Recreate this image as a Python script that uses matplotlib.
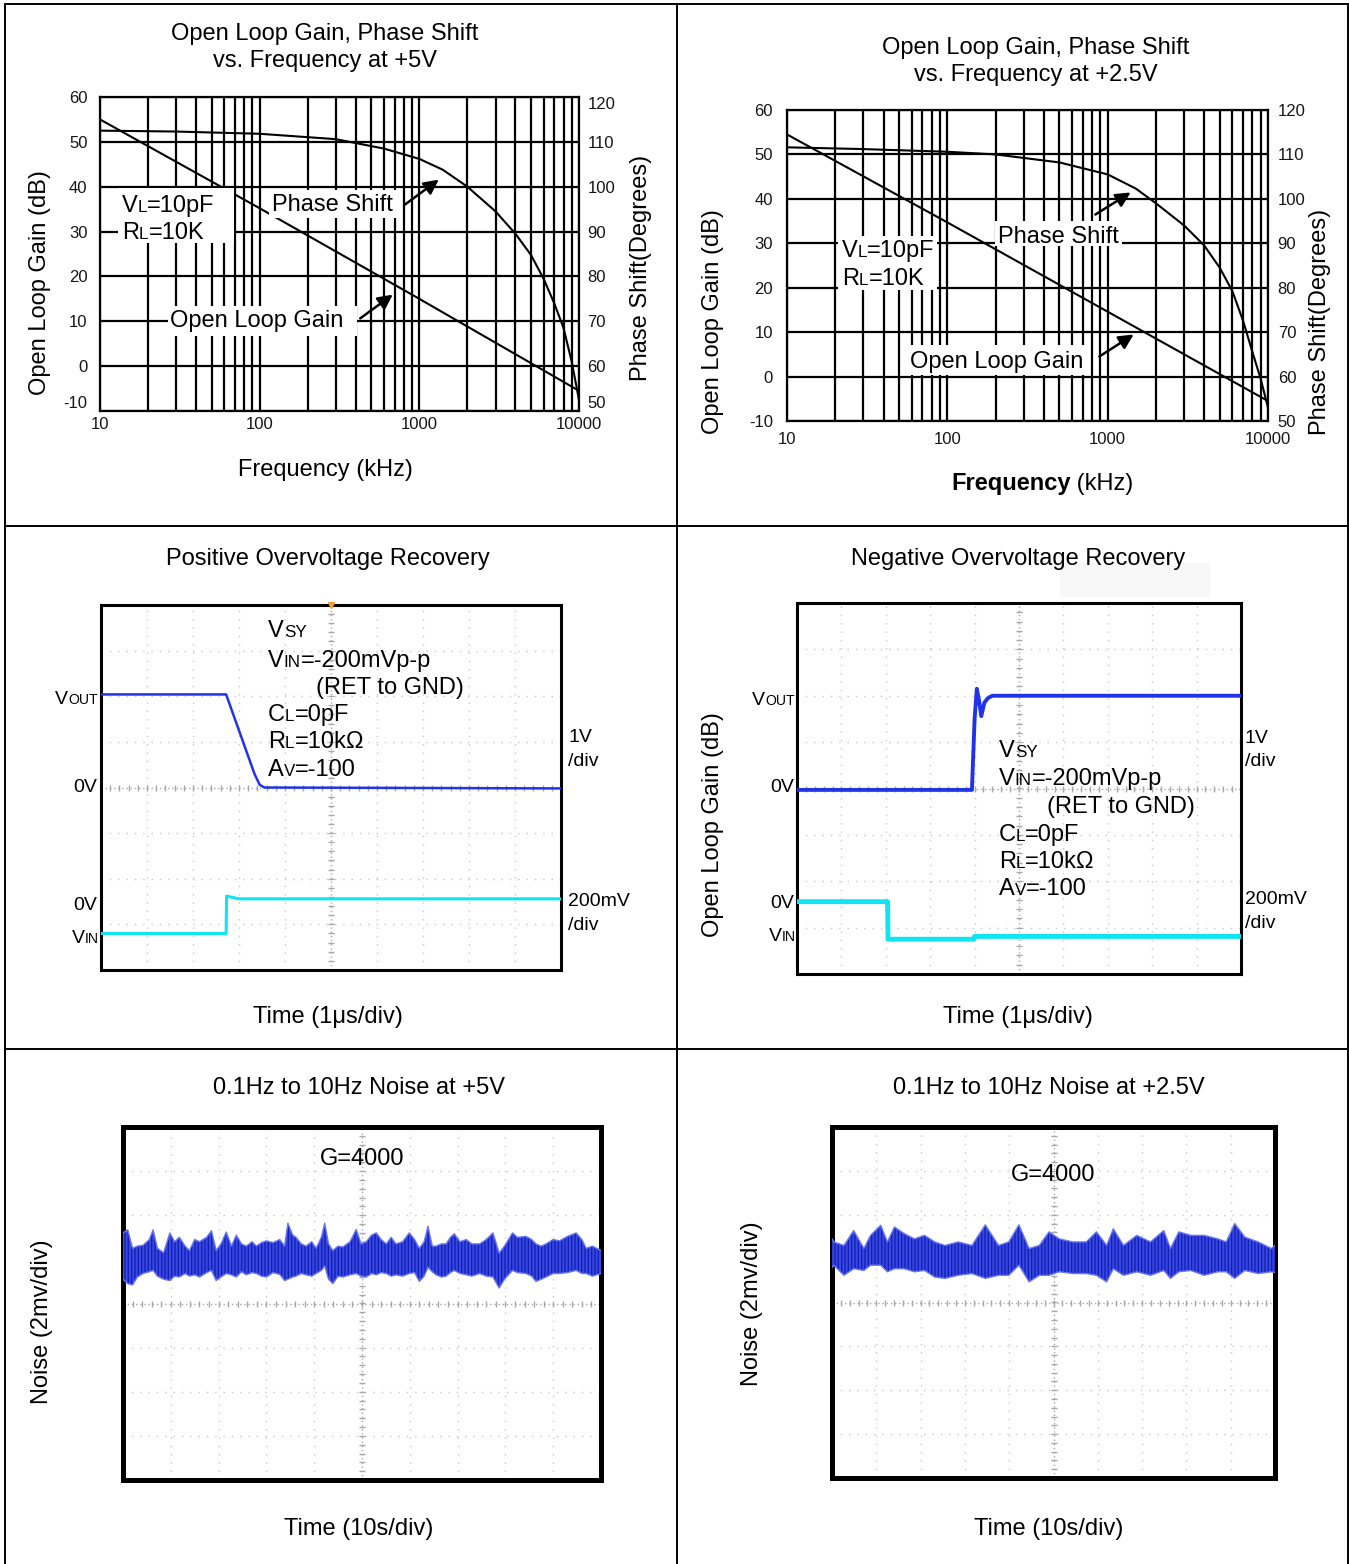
import matplotlib
matplotlib.use('Agg')
import matplotlib.pyplot as plt
import numpy as np
from matplotlib.patches import Rectangle, FancyArrowPatch
from matplotlib.lines import Line2D
from matplotlib.ticker import LogLocator, NullFormatter, FixedLocator

plt.rcParams['font.family'] = ['Liberation Sans', 'DejaVu Sans']
plt.rcParams['axes.unicode_minus'] = False
plt.rcParams['hatch.linewidth'] = 1.0

# ---- open loop gain / phase data (freq in kHz) ----
gain_freq = [10, 100, 1000, 10000]
gain_5v = [55.0, 35.2, 15.0, -5.5]
gain_25v = [54.5, 34.7, 14.6, -5.5]

phase_freq_5v = [10, 30, 100, 300, 600, 1000, 1400, 2000, 3000, 4000, 5000, 6000, 7000, 8000, 9000, 10000]
phase_5v = [112.5, 112.3, 111.8, 110.6, 108.5, 106.2, 103.8, 100.0, 94.5, 89.5, 84.8, 79.5, 74.0, 68.5, 61.0, 52.5]

phase_freq_25v = [10, 30, 100, 200, 500, 1000, 1500, 2000, 3000, 4000, 5000, 6000, 7000, 8000, 9000, 10000]
phase_25v = [111.6, 111.2, 110.6, 110.0, 108.2, 105.5, 102.3, 99.0, 94.0, 89.5, 84.5, 79.2, 72.5, 65.5, 59.5, 53.0]

freq_ticks = [10, 100, 1000, 10000]
freq_labels = ['10', '100', '1000', '10000']

# ---- overvoltage recovery traces (time and level in scope divisions) ----
pos_vout_t = [0, 2.72, 3.34, 3.45, 3.55, 10]
pos_vout_v = [2.04, 2.04, 0.29, 0.06, 0.0, -0.02]
pos_vin_t = [0, 2.72, 2.73, 3.0, 10]
pos_vin_v = [-3.2, -3.2, -2.38, -2.44, -2.44]

neg_vout_t = [0, 3.94, 4.0, 4.05, 4.1, 4.15, 4.22, 4.3, 4.4, 10]
neg_vout_v = [-0.03, -0.03, 1.5, 2.15, 1.9, 1.56, 1.85, 1.95, 2.0, 2.0]
neg_vin_t = [0, 2.04, 2.05, 3.98, 4.0, 10]
neg_vin_v = [-2.44, -2.44, -3.25, -3.25, -3.19, -3.19]

# ---- 0.1Hz-10Hz noise envelopes (divisions) ----
noise5_t = [0.0, 0.10, 0.20, 0.30, 0.42, 0.55, 0.63, 0.72, 0.85, 0.98, 1.08, 1.18, 1.30, 1.39, 1.50,
            1.60, 1.75, 1.85, 1.95, 2.05, 2.16, 2.27, 2.37, 2.48, 2.58, 2.70, 2.79, 2.90, 3.00, 3.14,
            3.28, 3.38, 3.45, 3.55, 3.62, 3.73, 3.83, 3.95, 4.04, 4.15, 4.22, 4.30, 4.39, 4.50, 4.60,
            4.75, 4.88, 4.98, 5.09, 5.20, 5.30, 5.40, 5.51, 5.61, 5.71, 5.85, 5.99, 6.10, 6.20, 6.30,
            6.38, 6.47, 6.55, 6.66, 6.76, 6.85, 6.93, 7.05, 7.18, 7.30, 7.46, 7.60, 7.74, 7.87, 7.98,
            8.15, 8.25, 8.43, 8.55, 8.64, 8.75, 8.85, 9.00, 9.13, 9.30, 9.48, 9.60, 9.69, 9.82, 10.0]
noise5_top = [1.60, 1.67, 1.25, 1.30, 1.32, 1.45, 1.67, 1.25, 1.15, 1.60, 1.40, 1.50, 1.30, 1.20, 1.45,
              1.40, 1.50, 1.65, 1.20, 1.35, 1.62, 1.30, 1.55, 1.35, 1.30, 1.40, 1.30, 1.38, 1.42, 1.38,
              1.45, 1.30, 1.82, 1.55, 1.50, 1.35, 1.30, 1.40, 1.25, 1.50, 1.82, 1.35, 1.20, 1.30, 1.28,
              1.40, 1.68, 1.35, 1.40, 1.55, 1.60, 1.45, 1.35, 1.50, 1.35, 1.40, 1.60, 1.45, 1.25, 1.40,
              1.75, 1.30, 1.30, 1.35, 1.35, 1.50, 1.58, 1.40, 1.45, 1.35, 1.35, 1.45, 1.60, 1.14, 1.30,
              1.60, 1.50, 1.52, 1.45, 1.35, 1.30, 1.35, 1.45, 1.42, 1.52, 1.60, 1.45, 1.25, 1.30, 1.20]
noise5_bot = [0.55, 0.45, 0.42, 0.60, 0.68, 0.72, 0.75, 0.62, 0.55, 0.52, 0.62, 0.60, 0.68, 0.62, 0.65,
              0.60, 0.70, 0.75, 0.52, 0.60, 0.68, 0.65, 0.60, 0.72, 0.65, 0.70, 0.68, 0.62, 0.60, 0.70,
              0.66, 0.52, 0.55, 0.60, 0.62, 0.68, 0.65, 0.62, 0.68, 0.75, 0.85, 0.55, 0.45, 0.62, 0.60,
              0.65, 0.68, 0.62, 0.60, 0.68, 0.65, 0.70, 0.68, 0.62, 0.65, 0.62, 0.68, 0.70, 0.50, 0.62,
              0.82, 0.72, 0.65, 0.60, 0.62, 0.70, 0.75, 0.68, 0.65, 0.62, 0.68, 0.62, 0.60, 0.35, 0.55,
              0.75, 0.70, 0.68, 0.62, 0.50, 0.55, 0.60, 0.68, 0.68, 0.70, 0.75, 0.68, 0.68, 0.62, 0.68]

noise25_t = [0.0, 0.04, 0.27, 0.49, 0.72, 0.87, 1.10, 1.25, 1.41, 1.63, 1.86, 2.09, 2.32, 2.55, 2.85,
             3.16, 3.46, 3.76, 3.99, 4.22, 4.45, 4.68, 4.90, 5.13, 5.44, 5.74, 5.97, 6.20, 6.35, 6.58,
             6.88, 7.19, 7.49, 7.64, 7.83, 8.10, 8.40, 8.71, 8.90, 9.09, 9.32, 9.62, 9.92, 10.0]
noise25_top = [1.45, 1.38, 1.30, 1.64, 1.23, 1.53, 1.76, 1.38, 1.72, 1.57, 1.45, 1.53, 1.38, 1.30, 1.38,
               1.30, 1.77, 1.30, 1.38, 1.77, 1.23, 1.30, 1.61, 1.45, 1.38, 1.38, 1.61, 1.30, 1.68, 1.30,
               1.53, 1.38, 1.64, 1.23, 1.61, 1.53, 1.53, 1.45, 1.38, 1.80, 1.49, 1.38, 1.23, 1.30]
noise25_bot = [0.80, 0.85, 0.62, 0.77, 0.73, 0.85, 0.85, 0.70, 0.77, 0.77, 0.70, 0.73, 0.58, 0.55, 0.62,
               0.66, 0.55, 0.62, 0.62, 0.85, 0.47, 0.62, 0.62, 0.70, 0.66, 0.66, 0.62, 0.47, 0.77, 0.62,
               0.70, 0.62, 0.73, 0.55, 0.70, 0.73, 0.62, 0.70, 0.70, 0.55, 0.73, 0.66, 0.70, 0.68]

W, H = 1349, 1564
fig = plt.figure(figsize=(W / 100, H / 100), dpi=100)
renderer = fig.canvas.get_renderer()


def box(x0, y0, x1, y1):
    return fig.add_axes([x0 / W, 1 - y1 / H, (x1 - x0) / W, (y1 - y0) / H])


def ftext(x, y, s, **kw):
    kw.setdefault('fontsize', 17)
    kw.setdefault('zorder', 7)
    return fig.text(x / W, 1 - y / H, s, **kw)


def white_box(x0, y0, x1, y1, color='white', z=4):
    fig.patches.append(Rectangle((x0 / W, 1 - y1 / H), (x1 - x0) / W, (y1 - y0) / H,
                                 transform=fig.transFigure, fc=color, ec='none', zorder=z))


def arrow(x0, y0, x1, y1):
    fig.add_artist(FancyArrowPatch((x0 / W, 1 - y0 / H), (x1 / W, 1 - y1 / H),
                                   transform=fig.transFigure, arrowstyle='-|>',
                                   mutation_scale=22, lw=1.8, color='black', zorder=6))


def rich(x, y, parts, size=17, weight='normal'):
    # parts: list of (text, small) drawn along one baseline y (pixels)
    cx = x
    for s, small in parts:
        t = fig.text(cx / W, 1 - y / H, s, fontsize=size * 0.72 if small else size,
                     va='baseline', ha='left', zorder=7, fontweight=weight)
        cx += t.get_window_extent(renderer).width
    return cx


def fline(x0, y0, x1, y1):
    fig.add_artist(Line2D([x0 / W, x1 / W], [1 - y0 / H, 1 - y1 / H],
                          transform=fig.transFigure, color='black', lw=1.4))


def bode(rect, gain, ph_f, ph, lpad, rpad, xpad, lift_ends):
    ax = box(*rect)
    ax.set_xscale('log')
    ax.set_xlim(10, 10000)
    ax.set_ylim(-10, 60)
    ax.set_yticks(range(-10, 61, 10))
    ax.xaxis.set_major_locator(FixedLocator(freq_ticks))
    ax.set_xticklabels(freq_labels)
    ax.xaxis.set_minor_locator(LogLocator(base=10, subs=range(2, 10)))
    ax.xaxis.set_minor_formatter(NullFormatter())
    ax.grid(True, which='both', axis='x', color='black', lw=1.6)
    ax.grid(True, which='major', axis='y', color='black', lw=1.6)
    ax.tick_params(which='both', length=0, labelsize=12, colors='#151515')
    ax.tick_params(axis='y', pad=lpad)
    ax.tick_params(axis='x', pad=xpad)
    for sp in ax.spines.values():
        sp.set_linewidth(1.6)
    ax.plot(gain_freq, gain, color='black', lw=1.5)
    ax2 = ax.twinx()
    ax2.set_ylim(50, 120)
    ax2.set_yticks(range(50, 121, 10))
    ax2.tick_params(length=0, labelsize=12, pad=rpad, colors='#151515')
    ax2.plot(ph_f, ph, color='black', lw=1.5)
    for sp in ax2.spines.values():
        sp.set_visible(False)
    if lift_ends:
        # bottom tick labels sit just above the frame, like the original sheet
        ax.get_yticklabels()[0].set_va('bottom')
        ax2.get_yticklabels()[0].set_va('bottom')
        ax2.get_yticklabels()[-1].set_va('top')
    ax.get_xticklabels()[-1].set_va('top')
    return ax


def scope(rect, frame_lw):
    ax = box(*rect)
    ax.set_xlim(0, 10)
    ax.set_ylim(-4, 4)
    ax.set_xticks([])
    ax.set_yticks([])
    for i in range(1, 10):
        if i != 5:
            ax.axvline(i, color='#c8c8c8', lw=1, ls=(0, (1, 5)), zorder=1)
    for j in range(-3, 4):
        if j != 0:
            ax.axhline(j, color='#c8c8c8', lw=1, ls=(0, (1, 5)), zorder=1)
    ax.axvline(5, color='#a8a8a8', lw=1, ls=(0, (1, 2)), zorder=1)
    ax.axhline(0, color='#a8a8a8', lw=1, ls=(0, (1, 2)), zorder=1)
    xs = np.arange(0, 10.01, 0.2)
    ys = np.arange(-4, 4.01, 0.2)
    ax.plot(xs, np.zeros_like(xs), '|', ms=4, color='#a8a8a8', mew=1, zorder=1)
    ax.plot(np.full_like(ys, 5), ys, '_', ms=4, color='#a8a8a8', mew=1, zorder=1)
    for sp in ax.spines.values():
        sp.set_linewidth(frame_lw)
    return ax


# ---------------- table lines ----------------
fline(5, 4, 1348, 4)
fline(5, 526, 1348, 526)
fline(5, 1049, 1348, 1049)
fline(5, 4, 5, 1564)
fline(677, 4, 677, 1564)
fline(1348, 4, 1348, 1564)

# ---------------- top-left Bode ----------------
ftext(325, 34, 'Open Loop Gain, Phase Shift', ha='center', va='center')
ftext(325, 61, 'vs. Frequency at +5V', ha='center', va='center')
bode((100, 97, 579, 411), gain_5v, phase_freq_5v, phase_5v, 9, 6, 4, True)
ftext(40, 283, 'Open Loop Gain (dB)', rotation=90, ha='center', va='center')
ftext(641, 268, 'Phase Shift(Degrees)', rotation=90, ha='center', va='center')
ftext(325, 470, 'Frequency (kHz)', ha='center', va='center')
white_box(118, 188, 234, 243)
rich(122, 212, [('V', False), ('L', True), ('=10pF', False)])
rich(122, 239, [('R', False), ('L', True), ('=10K', False)])
white_box(269, 190, 401, 218)
rich(272, 211, [('Phase Shift', False)])
arrow(403, 206, 441, 178)
white_box(168, 306, 357, 336)
rich(170, 327, [('Open Loop Gain', False)])
arrow(358, 320, 395, 293)

# ---------------- top-right Bode ----------------
ftext(1036, 48, 'Open Loop Gain, Phase Shift', ha='center', va='center')
ftext(1036, 75, 'vs. Frequency at +2.5V', ha='center', va='center')
bode((787, 110, 1268, 421), gain_25v, phase_freq_25v, phase_25v, 10, 7, 8, False)
ftext(713, 322, 'Open Loop Gain (dB)', rotation=90, ha='center', va='center')
ftext(1320, 322, 'Phase Shift(Degrees)', rotation=90, ha='center', va='center')
cx = rich(951, 490, [('Frequency', False)], weight='bold')
rich(cx, 490, [(' (kHz)', False)])
white_box(838, 236, 937, 290)
rich(842, 257, [('V', False), ('L', True), ('=10pF', False)])
rich(842, 285, [('R', False), ('L', True), ('=10K', False)])
white_box(995, 221, 1122, 246)
rich(998, 243, [('Phase Shift', False)])
arrow(1093, 216, 1133, 191)
white_box(907, 345, 1088, 375)
rich(910, 368, [('Open Loop Gain', False)])
arrow(1097, 358, 1136, 333)

# ---------------- positive overvoltage recovery ----------------
ftext(328, 559, 'Positive Overvoltage Recovery', ha='center', va='center')
ax = scope((101, 605, 561, 970), 2.2)
ax.plot(pos_vout_t, pos_vout_v, color='#2033e6', lw=1.8, zorder=3)
ax.plot(pos_vin_t, pos_vin_v, color='#10e4f0', lw=2.2, zorder=3)
ax.plot([5], [4], 'v', color='#f0a040', ms=4, clip_on=False, zorder=4)
rich(55, 704, [('V', False), ('OUT', True)], size=14)
ftext(97, 788, '0V', ha='right', va='center', fontsize=14)
ftext(97, 905, '0V', ha='right', va='center', fontsize=14)
rich(72, 943, [('V', False), ('IN', True)], size=14)
ftext(568, 737, '1V', ha='left', va='center', fontsize=14)
ftext(568, 761, '/div', ha='left', va='center', fontsize=14)
ftext(568, 901, '200mV', ha='left', va='center', fontsize=14)
ftext(568, 925, '/div', ha='left', va='center', fontsize=14)
rich(268, 637, [('V', False), ('SY', True)])
rich(268, 667, [('V', False), ('IN', True), ('=-200mVp-p', False)])
rich(316, 694, [('(RET to GND)', False)])
rich(268, 721, [('C', False), ('L', True), ('=0pF', False)])
rich(268, 748, [('R', False), ('L', True), ('=10kΩ', False)])
rich(268, 776, [('A', False), ('V', True), ('=-100', False)])
ftext(328, 1017, 'Time (1μs/div)', ha='center', va='center')

# ---------------- negative overvoltage recovery ----------------
white_box(1060, 563, 1210, 597, color='#f8f8f8', z=1)
ftext(1018, 559, 'Negative Overvoltage Recovery', ha='center', va='center')
ax = scope((797, 603, 1241, 974), 2.2)
ax.plot(neg_vout_t, neg_vout_v, color='#2033e6', lw=2.8, zorder=3)
ax.plot(neg_vin_t, neg_vin_v, color='#10e4f0', lw=3.5, zorder=3)
rich(752, 705, [('V', False), ('OUT', True)], size=14)
ftext(794, 788, '0V', ha='right', va='center', fontsize=14)
ftext(794, 904, '0V', ha='right', va='center', fontsize=14)
rich(769, 941, [('V', False), ('IN', True)], size=14)
ftext(1245, 738, '1V', ha='left', va='center', fontsize=14)
ftext(1245, 762, '/div', ha='left', va='center', fontsize=14)
ftext(1245, 900, '200mV', ha='left', va='center', fontsize=14)
ftext(1245, 924, '/div', ha='left', va='center', fontsize=14)
rich(999, 757, [('V', False), ('SY', True)])
rich(999, 785, [('V', False), ('IN', True), ('=-200mVp-p', False)])
rich(1047, 813, [('(RET to GND)', False)])
rich(999, 841, [('C', False), ('L', True), ('=0pF', False)])
rich(999, 868, [('R', False), ('L', True), ('=10kΩ', False)])
rich(999, 895, [('A', False), ('V', True), ('=-100', False)])
ftext(713, 825, 'Open Loop Gain (dB)', rotation=90, ha='center', va='center')
ftext(1018, 1017, 'Time (1μs/div)', ha='center', va='center')

# ---------------- noise plots ----------------
for rect, t, top, bot, title, gy, ylx, yly, tx in [
        ((123, 1127, 601, 1480), noise5_t, noise5_top, noise5_bot,
         '0.1Hz to 10Hz Noise at +5V', 1159, 42, 1322, 359),
        ((832, 1127, 1275, 1478), noise25_t, noise25_top, noise25_bot,
         '0.1Hz to 10Hz Noise at +2.5V', 1175, 752, 1304, 1049)]:
    ftext(tx, 1088, title, ha='center', va='center')
    ax = scope(rect, 3.6)
    ax.fill_between(t, bot, top, facecolor='#3848e6', edgecolor='#1420b0',
                    hatch='|||||', lw=0, zorder=3)
    ax.plot(t, top, color='#6a78f2', lw=1.0, zorder=3)
    ax.plot(t, bot, color='#6a78f2', lw=1.0, zorder=3)
    ftext((rect[0] + rect[2]) / 2, gy, 'G=4000', ha='center', va='center')
    ftext(ylx, yly, 'Noise (2mv/div)', rotation=90, ha='center', va='center')
    ftext(tx, 1529, 'Time (10s/div)', ha='center', va='center')

fig.savefig('out.png', dpi=100)
